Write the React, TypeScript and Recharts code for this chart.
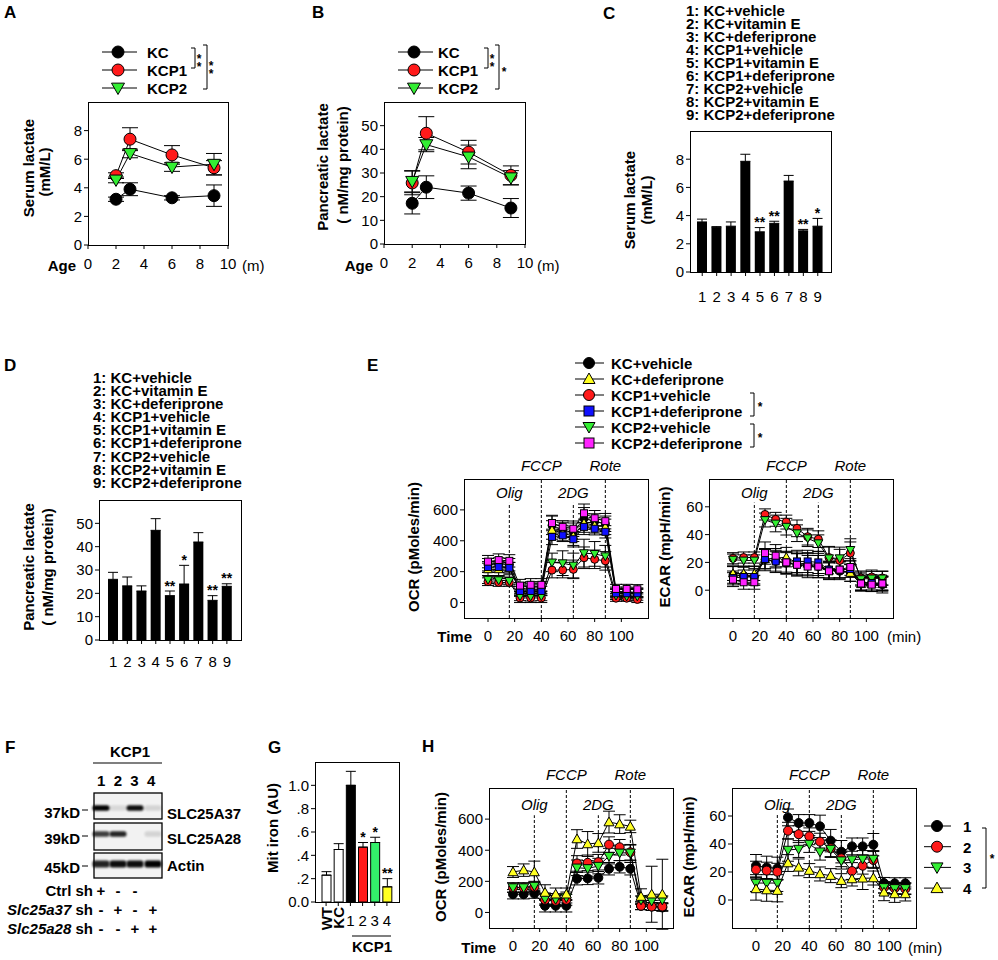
import React from 'react';
import { ComposedChart, Line, Bar, XAxis, YAxis, ErrorBar, ReferenceLine, LabelList, Cell } from 'recharts';

const FONT = '"Liberation Sans", Arial, Helvetica, sans-serif';
const RED = '#ff1a1a';
const GREEN = '#33ee33';
const YELLOW = '#ffff22';
const BLUE = '#1010ff';
const MAGENTA = '#ff22ff';

// A / B: lactate vs age (months)
const ageMonths = [2, 3, 6, 9];
const serumKC = [3.2, 3.9, 3.3, 3.45];
const serumKCErr = [0.15, 0.45, 0.15, 0.75];
const serumKCP1 = [4.85, 7.4, 6.3, 5.4];
const serumKCP1Err = [0.2, 0.8, 0.65, 0.5];
const serumKCP2 = [4.55, 6.4, 5.45, 5.65];
const serumKCP2Err = [0.2, 0.3, 0.3, 0.75];

const pancKC = [17.2, 24, 21.5, 15.2];
const pancKCErr = [4.5, 4.8, 3, 4];
const pancKCP1 = [25.8, 46.8, 38.8, 29];
const pancKCP1Err = [5, 7, 5, 4];
const pancKCP2 = [26.5, 42, 36.8, 28];
const pancKCP2Err = [4.5, 3, 5, 3];

// C / D: treatments
const treatGroups = ['1', '2', '3', '4', '5', '6', '7', '8', '9'];
const treatNames = ['KC+vehicle', 'KC+vitamin E', 'KC+deferiprone', 'KCP1+vehicle', 'KCP1+vitamin E', 'KCP1+deferiprone', 'KCP2+vehicle', 'KCP2+vitamin E', 'KCP2+deferiprone'];
const serumTreat = [3.55, 3.15, 3.25, 7.85, 2.85, 3.45, 6.45, 2.92, 3.25];
const serumTreatErr = [0.2, 0.07, 0.3, 0.5, 0.3, 0.15, 0.4, 0.1, 0.55];
const serumTreatSig = ['', '', '', '', '**', '**', '', '**', '*'];
const pancTreat = [26, 23.2, 21, 47, 19, 24, 42, 17, 23];
const pancTreatErr = [3, 3.8, 2.2, 5, 2, 8, 4, 2, 1.1];
const pancTreatSig = ['', '', '', '', '**', '*', '', '**', '**'];

// E: seahorse, KC / KCP1 / KCP2 +/- deferiprone
const seahorseMin = [0, 8, 16, 24, 32, 40, 48, 56, 64, 72, 80, 88, 96, 104, 112];
const eOcrKCveh = [245, 250, 245, 90, 95, 95, 500, 470, 455, 545, 525, 510, 70, 70, 65];
const eOcrKCvehErr = [40, 40, 40, 40, 40, 40, 60, 50, 60, 70, 50, 50, 30, 30, 30];
const eOcrKCdef = [215, 215, 220, 80, 85, 85, 470, 450, 430, 515, 500, 490, 60, 60, 60];
const eOcrKCdefErr = [40, 40, 40, 40, 40, 40, 60, 50, 60, 60, 50, 50, 30, 30, 30];
const eOcrP1veh = [135, 130, 130, 30, 30, 30, 210, 210, 215, 290, 280, 270, 28, 28, 20];
const eOcrP1vehErr = [25, 25, 25, 30, 30, 30, 50, 50, 60, 70, 60, 60, 20, 20, 20];
const eOcrP1def = [230, 230, 225, 75, 75, 75, 425, 435, 410, 490, 478, 458, 60, 60, 60];
const eOcrP1defErr = [35, 35, 35, 30, 30, 30, 50, 40, 50, 50, 40, 40, 25, 25, 25];
const eOcrP2veh = [148, 145, 140, 42, 40, 42, 260, 255, 240, 320, 315, 300, 45, 40, 40];
const eOcrP2vehErr = [25, 25, 25, 30, 30, 30, 60, 80, 80, 90, 80, 70, 25, 25, 25];
const eOcrP2def = [265, 275, 270, 110, 115, 115, 515, 490, 478, 578, 546, 527, 88, 88, 86];
const eOcrP2defErr = [40, 40, 40, 40, 40, 40, 50, 40, 50, 60, 50, 50, 30, 30, 30];

const eEcarKCveh = [11, 10.5, 9.5, 22, 20.7, 19.5, 18.3, 18.3, 17, 14.8, 13.6, 12.4, 5.7, 5.2, 4];
const eEcarKCvehErr = [6, 6, 6, 8, 8, 8, 8, 8, 8, 6, 6, 6, 6, 6, 6];
const eEcarKCdef = [12, 12, 12, 22.4, 23, 23.8, 19.5, 19, 18.5, 14, 14.8, 12.4, 4.3, 4.3, 4.3];
const eEcarKCdefErr = [5, 5, 5, 7, 7, 7, 8, 8, 8, 6, 6, 6, 5, 5, 5];
const eEcarP1veh = [23, 23.5, 23.5, 54.5, 51, 49, 44.5, 38.5, 36.7, 23.5, 21.4, 26.7, 8.8, 9.5, 8.8];
const eEcarP1vehErr = [4, 4, 4, 4, 5, 5, 6, 6, 6, 8, 8, 8, 5, 5, 5];
const eEcarP1def = [8.8, 9.5, 9.5, 22.4, 20.7, 20, 20.7, 20.7, 20, 14.8, 14.8, 15.2, 5.2, 5.2, 5.2];
const eEcarP1defErr = [5, 5, 5, 7, 7, 7, 8, 8, 8, 6, 6, 6, 5, 5, 5];
const eEcarP2veh = [22, 21.4, 21.4, 50.5, 48, 45.7, 41, 37.4, 33.8, 23, 23, 29, 8, 8.5, 8.5];
const eEcarP2vehErr = [4, 4, 4, 5, 6, 6, 6, 6, 6, 8, 8, 8, 5, 5, 5];
const eEcarP2def = [7.6, 5.7, 5.7, 26.7, 24.8, 20, 18.3, 17, 17, 13.6, 14.8, 16.7, 4.8, 4, 4.8];
const eEcarP2defErr = [5, 5, 5, 8, 8, 8, 8, 8, 8, 6, 6, 6, 5, 5, 5];

// G: mitochondrial iron
const ironGroups = ['WT', 'KC', '1', '2', '3', '4'];
const ironVals = [0.23, 0.45, 1.0, 0.47, 0.51, 0.13];
const ironErr = [0.03, 0.05, 0.12, 0.04, 0.045, 0.07];
const ironSig = ['', '', '', '*', '*', '**'];
const ironFill = ['#ffffff', '#ffffff', '#000000', RED, '#33f06a', YELLOW];

// H: seahorse, KCP1 shRNA groups 1-4
const hOcr1 = [117, 117, 121, 43, 43, 43, 217, 219, 223, 281, 294, 281, 43, 38, 32];
const hOcr1Err = [30, 30, 30, 40, 40, 40, 40, 40, 40, 40, 40, 40, 25, 25, 25];
const hOcr2 = [160, 160, 164, 81, 74, 81, 315, 319, 323, 436, 419, 387, 43, 38, 38];
const hOcr2Err = [30, 30, 30, 35, 35, 35, 50, 50, 50, 50, 50, 50, 25, 25, 25];
const hOcr3 = [160, 160, 170, 89, 85, 96, 287, 283, 298, 362, 383, 383, 81, 74, 81];
const hOcr3Err = [30, 30, 30, 35, 35, 35, 50, 50, 50, 50, 50, 50, 25, 25, 25];
const hOcr4 = [260, 272, 260, 128, 117, 117, 472, 440, 447, 581, 568, 553, 102, 117, 117];
const hOcr4Err = [35, 40, 70, 50, 40, 40, 60, 80, 60, 70, 60, 40, 50, 180, 225];
const hEcar1 = [24.5, 23.3, 22.6, 59, 55, 55, 52.6, 42.4, 34.5, 38.3, 38.3, 39.5, 12.1, 11.9, 11.9];
const hEcar1Err = [8, 8, 8, 6, 6, 6, 8, 8, 8, 6, 6, 8, 4, 4, 4];
const hEcar2 = [21.7, 21, 20.2, 49.5, 47, 45.5, 41.7, 37, 29.8, 20.7, 24.5, 28.6, 9, 8.3, 7.9];
const hEcar2Err = [6, 6, 6, 6, 6, 6, 6, 6, 6, 6, 6, 6, 4, 4, 4];
const hEcar3 = [12.1, 12.1, 12.1, 35.7, 36.4, 40, 34.5, 36.4, 28.1, 28.8, 29.3, 29.3, 9, 8.3, 8.3];
const hEcar3Err = [6, 6, 6, 8, 6, 6, 6, 6, 6, 6, 6, 6, 4, 4, 4];
const hEcar4 = [7.9, 7.1, 6.7, 26.4, 23.3, 21, 18.6, 17.4, 13.8, 15, 15.5, 15.7, 5.5, 4.3, 4.3];
const hEcar4Err = [8, 8, 8, 6, 6, 5, 5, 5, 5, 5, 8, 5, 6, 6, 5];

const injections = [
  { name: 'Olig', x: 16, short: true },
  { name: 'FCCP', x: 40, short: false },
  { name: '2DG', x: 64, short: true },
  { name: 'Rote', x: 88, short: false },
];

// F: blot
const blotLaneX = [101, 118, 135, 153];
const blotProteins = ['SLC25A37', 'SLC25A28', 'Actin'];
const blotSizes = ['37kD', '39kD', '45kD'];
const blotIntensity = [
  [1, 0.1, 0.95, 0.12],
  [0.75, 0.85, 0, 0.12],
  [0.85, 0.95, 0.95, 1],
];
const shCtrl = ['+', '-', '-', ''];
const shA37 = ['-', '+', '-', '+'];
const shA28 = ['-', '-', '+', '+'];

type Box = { x0: number; x1: number; y0: number; y1: number };
type M = { l: number; t: number; r: number; b: number };

const boxA: Box = { x0: 88, x1: 228, y0: 102, y1: 245 };
const boxB: Box = { x0: 384, x1: 525, y0: 102, y1: 244 };
const boxC: Box = { x0: 690, x1: 831, y0: 131, y1: 272 };
const boxD: Box = { x0: 99, x1: 241, y0: 500, y1: 640 };
const boxEo: Box = { x0: 464, x1: 648, y0: 479, y1: 618 };
const boxEe: Box = { x0: 709, x1: 893, y0: 479, y1: 618 };
const boxG: Box = { x0: 315, x1: 399, y0: 762, y1: 902 };
const boxHo: Box = { x0: 489, x1: 673, y0: 788, y1: 928 };
const boxHe: Box = { x0: 732, x1: 916, y0: 788, y1: 928 };

const mSmall: M = { l: 50, t: 10, r: 10, b: 34 };
const mSea: M = { l: 50, t: 30, r: 10, b: 30 };

function rows(xKey: string, xs: any[], cols: Record<string, any[]>) {
  return xs.map((x, i) => {
    const r: any = { [xKey]: x };
    for (const k in cols) r[k] = cols[k][i];
    return r;
  });
}

const rowsA = rows('age', ageMonths, { kc: serumKC, kcE: serumKCErr, p1: serumKCP1, p1E: serumKCP1Err, p2: serumKCP2, p2E: serumKCP2Err });
const rowsB = rows('age', ageMonths, { kc: pancKC, kcE: pancKCErr, p1: pancKCP1, p1E: pancKCP1Err, p2: pancKCP2, p2E: pancKCP2Err });
const rowsC = rows('g', treatGroups, { v: serumTreat, e: serumTreatErr.map((e) => [0, e]), s: serumTreatSig });
const rowsD = rows('g', treatGroups, { v: pancTreat, e: pancTreatErr.map((e) => [0, e]), s: pancTreatSig });
const rowsEo = rows('t', seahorseMin, {
  kcv: eOcrKCveh, kcvE: eOcrKCvehErr, kcd: eOcrKCdef, kcdE: eOcrKCdefErr,
  p1v: eOcrP1veh, p1vE: eOcrP1vehErr, p1d: eOcrP1def, p1dE: eOcrP1defErr,
  p2v: eOcrP2veh, p2vE: eOcrP2vehErr, p2d: eOcrP2def, p2dE: eOcrP2defErr,
});
const rowsEe = rows('t', seahorseMin, {
  kcv: eEcarKCveh, kcvE: eEcarKCvehErr, kcd: eEcarKCdef, kcdE: eEcarKCdefErr,
  p1v: eEcarP1veh, p1vE: eEcarP1vehErr, p1d: eEcarP1def, p1dE: eEcarP1defErr,
  p2v: eEcarP2veh, p2vE: eEcarP2vehErr, p2d: eEcarP2def, p2dE: eEcarP2defErr,
});
const rowsG = rows('g', ironGroups, { v: ironVals, e: ironErr.map((e) => [0, e]), s: ironSig });
const rowsHo = rows('t', seahorseMin, { s1: hOcr1, s1E: hOcr1Err, s2: hOcr2, s2E: hOcr2Err, s3: hOcr3, s3E: hOcr3Err, s4: hOcr4, s4E: hOcr4Err });
const rowsHe = rows('t', seahorseMin, { s1: hEcar1, s1E: hEcar1Err, s2: hEcar2, s2E: hEcar2Err, s3: hEcar3, s3E: hEcar3Err, s4: hEcar4, s4E: hEcar4Err });

type Shape = 'circle' | 'square' | 'up' | 'down';
const ageSeries = [
  { key: 'kc', name: 'KC', shape: 'circle' as Shape, fill: '#000' },
  { key: 'p1', name: 'KCP1', shape: 'circle' as Shape, fill: RED },
  { key: 'p2', name: 'KCP2', shape: 'down' as Shape, fill: GREEN },
];
const eSeries = [
  { key: 'kcv', name: 'KC+vehicle', shape: 'circle' as Shape, fill: '#000' },
  { key: 'kcd', name: 'KC+deferiprone', shape: 'up' as Shape, fill: YELLOW },
  { key: 'p1v', name: 'KCP1+vehicle', shape: 'circle' as Shape, fill: RED },
  { key: 'p1d', name: 'KCP1+deferiprone', shape: 'square' as Shape, fill: BLUE },
  { key: 'p2v', name: 'KCP2+vehicle', shape: 'down' as Shape, fill: GREEN },
  { key: 'p2d', name: 'KCP2+deferiprone', shape: 'square' as Shape, fill: MAGENTA },
];
const eDrawOrder = ['kcv', 'kcd', 'p1v', 'p2v', 'p1d', 'p2d'];
const hSeries = [
  { key: 's1', name: '1', shape: 'circle' as Shape, fill: '#000' },
  { key: 's2', name: '2', shape: 'circle' as Shape, fill: RED },
  { key: 's3', name: '3', shape: 'down' as Shape, fill: GREEN },
  { key: 's4', name: '4', shape: 'up' as Shape, fill: YELLOW },
];

function Marker({ cx, cy, shape, fill, size }: { cx: number; cy: number; shape: Shape; fill: string; size: number }) {
  const r = size / 2;
  const common = { fill, stroke: '#000', strokeWidth: 1 };
  if (shape === 'circle') return <circle cx={cx} cy={cy} r={r} {...common} />;
  if (shape === 'square') return <rect x={cx - r} y={cy - r} width={size} height={size} {...common} />;
  if (shape === 'down') return <polygon points={`${cx - r},${cy - r * 0.75} ${cx + r},${cy - r * 0.75} ${cx},${cy + r}`} {...common} />;
  return <polygon points={`${cx - r},${cy + r * 0.75} ${cx + r},${cy + r * 0.75} ${cx},${cy - r}`} {...common} />;
}

const dotFn = (shape: Shape, fill: string, size: number) => (p: any) => {
  if (p.cx == null || p.cy == null) return <g key={`n${p.index}`} />;
  return <Marker key={`m${p.index}`} cx={p.cx} cy={p.cy} shape={shape} fill={fill} size={size} />;
};

const tick = { fill: '#000', fontSize: 15, fontFamily: FONT };
const tl = { stroke: '#000' };

function Plot({ box, m, data, children }: { box: Box; m: M; data: any[]; children: React.ReactNode }) {
  return (
    <div style={{ position: 'absolute', left: box.x0 - m.l, top: box.y0 - m.t }}>
      <ComposedChart width={box.x1 - box.x0 + m.l + m.r} height={box.y1 - box.y0 + m.t + m.b} data={data} margin={{ top: m.t, right: m.r, left: 0, bottom: 0 }}>
        {children}
      </ComposedChart>
    </div>
  );
}

function Frame({ b }: { b: Box }) {
  return <div style={{ position: 'absolute', left: b.x0, top: b.y0, width: b.x1 - b.x0 + 1, height: b.y1 - b.y0 + 1, border: '1px solid #000', boxSizing: 'border-box', pointerEvents: 'none' }} />;
}

function T({ x, y, children, size = 15, bold = false, italic = false, anchor = 'start', rot = false, lh = 1 }: any) {
  const tx = anchor === 'start' ? '0' : anchor === 'middle' ? '-50%' : '-100%';
  const transform = rot ? 'translate(-50%,-50%) rotate(-90deg)' : `translate(${tx},-50%)`;
  return (
    <div style={{ position: 'absolute', left: x, top: y, transform, whiteSpace: 'pre', fontFamily: FONT, fontSize: size, fontWeight: bold ? 700 : 400, fontStyle: italic ? 'italic' : 'normal', lineHeight: lh, color: '#000', textAlign: 'center' }}>
      {children}
    </div>
  );
}

const starLabel = (vals: number[], errs: number[]) => (p: any) => {
  const { x, y, width, height, index, value } = p;
  if (!value) return null;
  const top = y - (errs[index] / vals[index]) * height;
  return (
    <text x={x + width / 2} y={top - 0.5} textAnchor="middle" fontSize={14} fontWeight={700} fontFamily={FONT} fill="#000">
      {value}
    </text>
  );
};

function ageChart(box: Box, data: any[], yMax: number, yTicks: number[]) {
  return (
    <Plot box={box} m={mSmall} data={data}>
      <XAxis type="number" dataKey="age" domain={[0, 10]} ticks={[0, 2, 4, 6, 8, 10]} interval={0} height={mSmall.b} axisLine={false} tickLine={tl} tickSize={4} tickMargin={9} tick={tick} />
      <YAxis type="number" domain={[0, yMax]} ticks={yTicks} interval={0} width={mSmall.l} axisLine={false} tickLine={tl} tickSize={4} tickMargin={2} tick={tick} />
      {ageSeries.map((s) => (
        <Line key={s.key} dataKey={s.key} type="linear" stroke="#000" strokeWidth={1} isAnimationActive={false} activeDot={false} dot={dotFn(s.shape, s.fill, s.shape === 'down' ? 13 : 12)}>
          <ErrorBar dataKey={`${s.key}E`} width={8} stroke="#000" strokeWidth={1} direction="y" />
        </Line>
      ))}
    </Plot>
  );
}

function treatChart(box: Box, data: any[], yMax: number, yTicks: number[], vals: number[], errs: number[], pad: [number, number], tickMargin: number) {
  return (
    <Plot box={box} m={mSmall} data={data}>
      <XAxis dataKey="g" type="category" padding={{ left: pad[0], right: pad[1] }} interval={0} height={mSmall.b} axisLine={false} tickLine={tl} tickSize={4} tickMargin={tickMargin} tick={tick} />
      <YAxis type="number" domain={[0, yMax]} ticks={yTicks} interval={0} width={mSmall.l} axisLine={false} tickLine={tl} tickSize={4} tickMargin={2} tick={tick} />
      <Bar dataKey="v" fill="#000" barSize={10} isAnimationActive={false}>
        <ErrorBar dataKey="e" width={5} stroke="#000" strokeWidth={1} direction="y" />
        <LabelList dataKey="s" content={starLabel(vals, errs)} />
      </Bar>
    </Plot>
  );
}

function seaChart(box: Box, data: any[], series: { key: string; shape: Shape; fill: string }[], order: string[], yDom: [number, number], yTicks: number[], shortTop: number, size: number) {
  const lab = (name: string, off: number) => ({ value: name, position: 'top' as const, offset: off, fill: '#000', fontSize: 15, fontStyle: 'italic', fontFamily: FONT });
  return (
    <Plot box={box} m={mSea} data={data}>
      <XAxis type="number" dataKey="t" domain={[-18, 120]} ticks={[0, 20, 40, 60, 80, 100]} interval={0} height={mSea.b} axisLine={false} tickLine={tl} tickSize={4} tickMargin={8} tick={tick} />
      <YAxis type="number" domain={yDom} ticks={yTicks} interval={0} width={mSea.l} axisLine={false} tickLine={tl} tickSize={4} tickMargin={2} tick={tick} allowDataOverflow />
      {injections.map((inj) => (
        <ReferenceLine
          key={inj.name}
          segment={[{ x: inj.x, y: yDom[0] }, { x: inj.x, y: inj.short ? shortTop : yDom[1] }]}
          stroke="#000"
          strokeWidth={1}
          strokeDasharray="3 2"
          label={lab(inj.name, inj.short ? 5 : 8)}
        />
      ))}
      {order.map((k) => {
        const s = series.find((q) => q.key === k)!;
        return (
          <Line key={s.key} dataKey={s.key} type="linear" stroke="#000" strokeWidth={1} isAnimationActive={false} activeDot={false} dot={dotFn(s.shape, s.fill, s.shape === 'circle' ? size : s.shape === 'square' ? size - 1 : size + 1)}>
            <ErrorBar dataKey={`${s.key}E`} width={6} stroke="#000" strokeWidth={1} direction="y" />
          </Line>
        );
      })}
    </Plot>
  );
}

const ironTick = (p: any) => {
  const v = p.payload.value;
  if (v === 'WT' || v === 'KC') {
    return (
      <text x={p.x} y={p.y - 8} transform={`rotate(-90 ${p.x} ${p.y - 8})`} textAnchor="end" dominantBaseline="central" fontSize={15} fontWeight={700} fontFamily={FONT} fill="#000">
        {v}
      </text>
    );
  }
  return (
    <text x={p.x} y={p.y} dy="0.71em" textAnchor="middle" fontSize={15} fontFamily={FONT} fill="#000">
      {v}
    </text>
  );
};

function Bracket({ x, y0, y1 }: { x: number; y0: number; y1: number }) {
  return <path d={`M${x - 4} ${y0} H${x} V${y1} H${x - 4}`} fill="none" stroke="#000" strokeWidth={1} />;
}

export default function App() {
  return (
    <div style={{ position: 'absolute', left: 0, top: 0, width: 998, height: 960, background: '#fff', overflow: 'hidden', fontFamily: FONT }}>
      {ageChart(boxA, rowsA, 10, [0, 2, 4, 6, 8])}
      {ageChart(boxB, rowsB, 60, [0, 10, 20, 30, 40, 50])}
      {treatChart(boxC, rowsC, 10, [0, 2, 4, 6, 8], serumTreat, serumTreatErr, [5, 6], 15)}
      {treatChart(boxD, rowsD, 60, [0, 10, 20, 30, 40, 50], pancTreat, pancTreatErr, [7, 7], 12)}
      {seaChart(boxEo, rowsEo, eSeries, eDrawOrder, [-100, 800], [0, 200, 400, 600], 645, 8)}
      {seaChart(boxEe, rowsEe, eSeries, eDrawOrder, [-20, 80], [0, 20, 40, 60], 63, 8)}
      {seaChart(boxHo, rowsHo, hSeries, ['s1', 's2', 's3', 's4'], [-100, 800], [0, 200, 400, 600], 625, 9)}
      {seaChart(boxHe, rowsHe, hSeries, ['s1', 's2', 's3', 's4'], [-20, 80], [0, 20, 40, 60], 61, 9)}

      <Plot box={boxG} m={mSmall} data={rowsG}>
        <XAxis dataKey="g" type="category" padding={{ left: 5, right: 6 }} interval={0} height={mSmall.b} axisLine={false} tickLine={tl} tickSize={4} tickMargin={9} tick={ironTick} />
        <YAxis type="number" domain={[0, 1.2]} ticks={[0, 0.2, 0.4, 0.6, 0.8, 1.0]} interval={0} width={mSmall.l} axisLine={false} tickLine={tl} tickSize={4} tickMargin={2} tick={tick}
          tickFormatter={(v: number) => (v === 0 ? '0.0' : v === 1 ? '1.0' : v.toFixed(1).replace('0.', '.'))} />
        <Bar dataKey="v" barSize={9} stroke="#000" strokeWidth={1} isAnimationActive={false}>
          {ironFill.map((c, i) => <Cell key={i} fill={c} />)}
          <ErrorBar dataKey="e" width={5} stroke="#000" strokeWidth={1} direction="y" />
          <LabelList dataKey="s" content={starLabel(ironVals, ironErr)} />
        </Bar>
      </Plot>

      {[boxA, boxB, boxC, boxD, boxEo, boxEe, boxG, boxHo, boxHe].map((b, i) => <Frame key={i} b={b} />)}

      <svg width={998} height={960} style={{ position: 'absolute', left: 0, top: 0, pointerEvents: 'none' }}>
        <defs>
          <filter id="blur" x="-50%" y="-50%" width="200%" height="200%">
            <feGaussianBlur stdDeviation="1.1" />
          </filter>
        </defs>
        {/* A / B legends */}
        {[102, 398].map((x0, p) =>
          ageSeries.map((s, i) => (
            <g key={`${p}${s.key}`}>
              <line x1={x0} x2={x0 + 35} y1={52 + i * 18} y2={52 + i * 18} stroke="#000" />
              <Marker cx={x0 + 16} cy={52 + i * 18} shape={s.shape} fill={s.fill} size={s.shape === 'down' ? 13 : 12} />
            </g>
          ))
        )}
        <Bracket x={195} y0={48} y1={68} />
        <Bracket x={207} y0={45} y1={89} />
        <Bracket x={488} y0={48} y1={68} />
        <Bracket x={499} y0={45} y1={89} />
        {/* E legend */}
        {eSeries.map((s, i) => (
          <g key={`el${s.key}`}>
            <line x1={575} x2={604} y1={363 + i * 16} y2={363 + i * 16} stroke="#000" />
            <Marker cx={589} cy={363 + i * 16} shape={s.shape} fill={s.fill} size={s.shape === 'circle' ? 11 : s.shape === 'square' ? 10 : 12} />
          </g>
        ))}
        <Bracket x={754} y0={393} y1={416} />
        <Bracket x={754} y0={424} y1={447} />
        {/* H legend */}
        {hSeries.map((s, i) => (
          <g key={`hl${s.key}`}>
            <line x1={924} x2={951} y1={826 + i * 20.7} y2={826 + i * 20.7} stroke="#000" />
            <Marker cx={937} cy={826 + i * 20.7} shape={s.shape} fill={s.fill} size={s.shape === 'circle' ? 11 : 12} />
          </g>
        ))}
        <path d="M982 828 H986 V888 H982" fill="none" stroke="#000" />
        {/* F blot */}
        <line x1={93} x2={162} y1={763} y2={763} stroke="#000" strokeWidth={1.2} />
        {[[793, 819, 808], [823, 850, 834], [853, 878, 864]].map(([y0, y1, by], r) => (
          <g key={`b${r}`}>
            <rect x={94} y={y0} width={68} height={y1 - y0} fill="#f2f2f2" stroke="#000" strokeWidth={1.3} />
            {blotLaneX.map((lx, i) =>
              blotIntensity[r][i] > 0 ? (
                <rect key={i} x={lx - 8.5} y={by - (r === 2 ? 3.5 : 2.8)} width={17} height={r === 2 ? 7 : 5.6} rx={2.5} fill="#000" opacity={blotIntensity[r][i]} filter="url(#blur)" />
              ) : null
            )}
            <line x1={82} x2={88} y1={by + 2} y2={by + 2} stroke="#000" />
          </g>
        ))}
        {/* G KCP1 line */}
        <line x1={352} x2={391} y1={936} y2={936} stroke="#000" strokeWidth={1.2} />
      </svg>

      {/* Panel letters */}
      <T x={4} y={12} size={17} bold>A</T>
      <T x={312} y={12} size={17} bold>B</T>
      <T x={603} y={13} size={17} bold>C</T>
      <T x={4} y={365} size={17} bold>D</T>
      <T x={367} y={365} size={17} bold>E</T>
      <T x={5} y={747} size={17} bold>F</T>
      <T x={268} y={747} size={17} bold>G</T>
      <T x={422} y={746} size={17} bold>H</T>

      {/* A / B legends text */}
      {[147, 438].map((x, p) => ageSeries.map((s, i) => <T key={`${p}${s.key}`} x={x} y={52 + i * 18} bold>{s.name}</T>))}
      <T x={199} y={63} size={12} bold anchor="middle" lh="8px">{'*\n*'}</T>
      <T x={211} y={70} size={12} bold anchor="middle" lh="8px">{'*\n*'}</T>
      <T x={492} y={63} size={12} bold anchor="middle" lh="8px">{'*\n*'}</T>
      <T x={504} y={72} size={12} bold anchor="middle">*</T>

      {/* A axis titles */}
      <T x={28} y={168} bold rot>Serum lactate</T>
      <T x={44} y={172} bold rot>(mM/L)</T>
      <T x={76} y={265} bold anchor="end">Age</T>
      <T x={242} y={265}>(m)</T>
      {/* B axis titles */}
      <T x={322} y={167} bold rot>Pancreatic lactate</T>
      <T x={342} y={165} bold rot>( nM/mg protein)</T>
      <T x={373} y={265} bold anchor="end">Age</T>
      <T x={537} y={265}>(m)</T>

      {/* C */}
      <div style={{ position: 'absolute', left: 686, top: 4, fontFamily: FONT, fontSize: 15, fontWeight: 700, lineHeight: '13px', whiteSpace: 'pre' }}>
        {treatGroups.map((g, i) => `${g}: ${treatNames[i]}`).join('\n')}
      </div>
      <T x={629} y={200} bold rot>Serum lactate</T>
      <T x={646} y={200} bold rot>(mM/L)</T>

      {/* D */}
      <div style={{ position: 'absolute', left: 93, top: 371, fontFamily: FONT, fontSize: 15, fontWeight: 700, lineHeight: '13.1px', whiteSpace: 'pre' }}>
        {treatGroups.map((g, i) => `${g}: ${treatNames[i]}`).join('\n')}
      </div>
      <T x={28} y={567} bold rot>Pancreatic lactate</T>
      <T x={47} y={567} bold rot>( nM/mg protein)</T>

      {/* E */}
      {eSeries.map((s, i) => <T key={`et${s.key}`} x={611} y={363 + i * 16} bold>{s.name}</T>)}
      <T x={760} y={407} size={12} bold anchor="middle">*</T>
      <T x={760} y={438} size={12} bold anchor="middle">*</T>
      <T x={413} y={547} bold rot>OCR (pMoles/min)</T>
      <T x={664} y={547} bold rot>ECAR (mpH/min)</T>
      <T x={472} y={636} bold anchor="end">Time</T>
      <T x={887} y={636}>(min)</T>

      {/* F */}
      <T x={130} y={751} bold anchor="middle">KCP1</T>
      <T x={97} y={780} bold>{blotLaneX.map((_, i) => String(i + 1)).join('  ')}</T>
      {blotSizes.map((s, i) => <T key={`sz${s}`} x={80} y={[812, 838, 867][i]} bold anchor="end">{s}</T>)}
      {blotProteins.map((s, i) => <T key={`pr${s}`} x={167} y={[813, 838, 865][i]} bold>{s}</T>)}
      <T x={93} y={890} bold anchor="end">Ctrl sh</T>
      <T x={93} y={909} bold anchor="end"><i>Slc25a37</i> sh</T>
      <T x={93} y={928} bold anchor="end"><i>Slc25a28</i> sh</T>
      {blotLaneX.map((x, i) => (
        <React.Fragment key={`sh${i}`}>
          <T x={x} y={890} bold anchor="middle">{shCtrl[i]}</T>
          <T x={x} y={909} bold anchor="middle">{shA37[i]}</T>
          <T x={x} y={928} bold anchor="middle">{shA28[i]}</T>
        </React.Fragment>
      ))}

      {/* G */}
      <T x={272} y={828} bold rot>Mit iron (AU)</T>
      <T x={372} y={946} bold anchor="middle">KCP1</T>

      {/* H */}
      <T x={440} y={857} bold rot>OCR (pMoles/min)</T>
      <T x={688} y={857} bold rot>ECAR (mpH/min)</T>
      <T x={496} y={947} bold anchor="end">Time</T>
      <T x={908} y={947}>(min)</T>
      {hSeries.map((s, i) => <T key={`ht${s.key}`} x={963} y={826 + i * 20.7} bold>{s.name}</T>)}
      <T x={992} y={859} size={12} bold anchor="middle">*</T>
    </div>
  );
}
